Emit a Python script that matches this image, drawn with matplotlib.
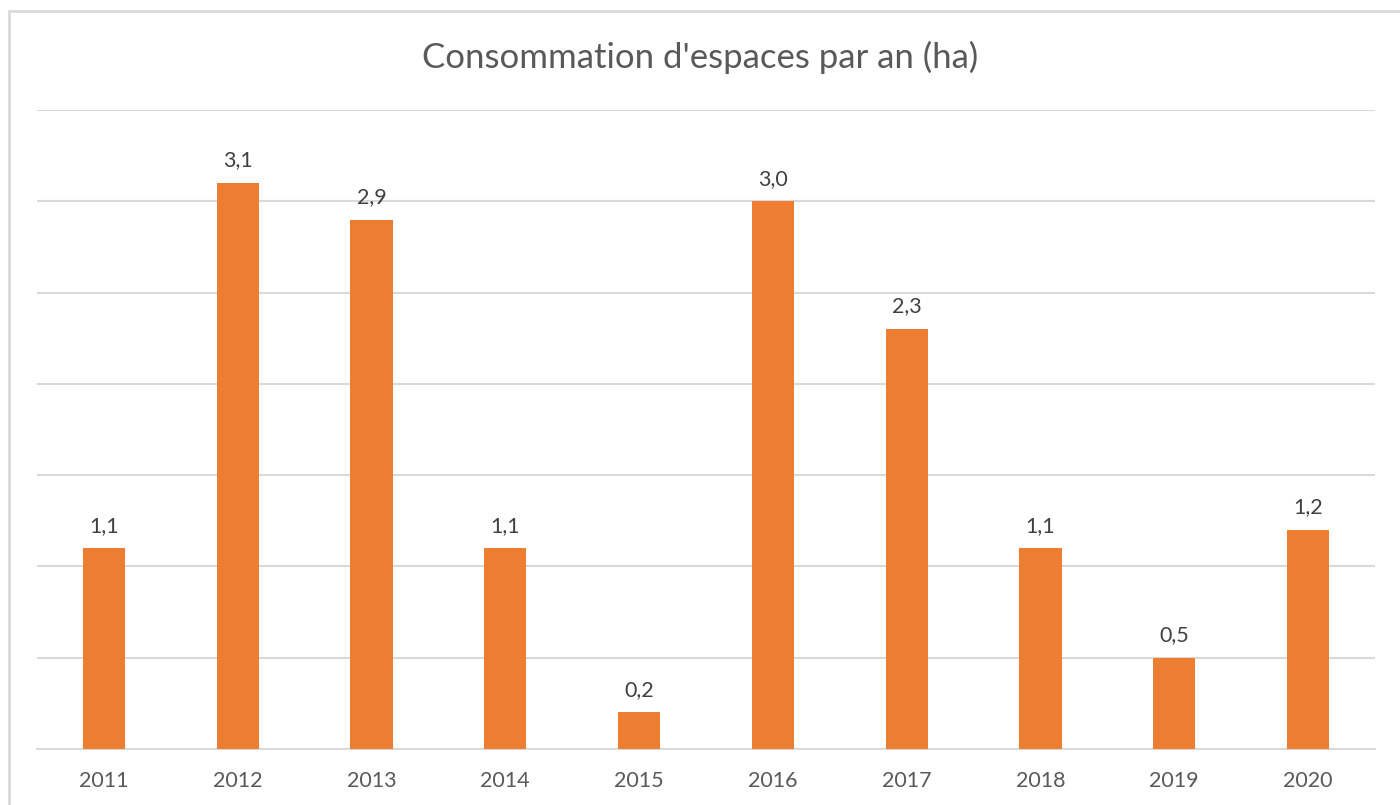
import matplotlib
matplotlib.use("Agg")
import matplotlib.pyplot as plt
from matplotlib.patches import Rectangle

years = ["2011", "2012", "2013", "2014", "2015", "2016", "2017", "2018", "2019", "2020"]
values = [1.1, 3.1, 2.9, 1.1, 0.2, 3.0, 2.3, 1.1, 0.5, 1.2]
labels = ["1,1", "3,1", "2,9", "1,1", "0,2", "3,0", "2,3", "1,1", "0,5", "1,2"]
title = "Consommation d'espaces par an (ha)"

plt.rcParams['font.family'] = ['Lato', 'DejaVu Sans']

W, H = 1400, 805
fig = plt.figure(figsize=(W / 100, H / 100), dpi=100)
fig.patch.set_facecolor("white")

# chart border (only left/top visible within image)
fig.add_artist(Rectangle((9 / W, -0.1), 1.2, 1.1 - 11 / H,
                         transform=fig.transFigure, fill=False,
                         edgecolor="#d9d9d9", linewidth=2))

left, right = 37 / W, 1375 / W
bottom, top = 1 - 749 / H, 1 - 110 / H
ax = fig.add_axes([left, bottom, right - left, top - bottom])

x = list(range(len(years)))
bars = ax.bar(x, values, width=0.314, color="#ED7D31", zorder=3)
ax.set_xlim(-0.5, len(years) - 0.5)
ax.set_ylim(0, 3.5)
ax.set_yticks([0, 0.5, 1.0, 1.5, 2.0, 2.5, 3.0, 3.5])
ax.yaxis.grid(True, color="#d9d9d9", linewidth=1.5, zorder=0)
ax.tick_params(axis="y", left=False, labelleft=False)
ax.set_xticks(x)
ax.set_xticklabels(years, fontsize=15.5, color="#595959")
ax.tick_params(axis="x", length=0, pad=16)
for s in ["left", "right", "top"]:
    ax.spines[s].set_visible(False)
ax.spines["bottom"].set_color("#d9d9d9")
ax.spines["bottom"].set_linewidth(1.5)

for rect, lab in zip(bars, labels):
    ax.annotate(lab, (rect.get_x() + rect.get_width() / 2, rect.get_height()),
                xytext=(0, 9), textcoords="offset points", ha="center", va="bottom",
                fontsize=15.5, color="#404040")

fig.text(0.5, 1 - 57 / H, title, ha="center", va="center", fontsize=25, color="#595959")

fig.savefig("out.png", dpi=100)
